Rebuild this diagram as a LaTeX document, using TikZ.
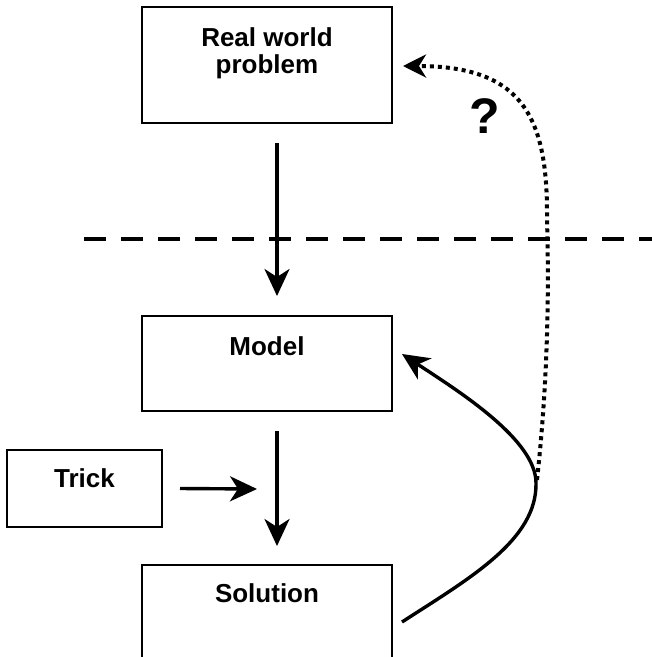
\documentclass[tikz,border=0pt]{standalone}
\usepackage{fontspec}
\setmainfont{Liberation Sans}
\usetikzlibrary{arrows.meta}
\begin{document}
\begin{tikzpicture}[x=1pt,y=-1pt,
  box/.style={draw, line width=1.8pt, inner sep=0pt, outer sep=0pt},
  lbl/.style={font=\fontsize{26}{27}\selectfont\bfseries, align=center, inner sep=0pt},
  flow/.style={line width=3.4pt, -{Stealth[length=27pt,width=25pt,inset=8pt]}},
  guess/.style={line width=4pt, dash pattern=on 4pt off 4pt,
    -{Stealth[length=23pt,width=23pt,inset=7pt]}},
  divider/.style={line width=4.5pt, dash pattern=on 22pt off 15pt}]
\useasboundingbox (0,0) rectangle (652,657);

% boxes
\node[box, minimum width=250pt, minimum height=116pt] (real) at (267,65) {};
\node[box, minimum width=250pt, minimum height=95pt] (model) at (267,363.5) {};
\node[box, minimum width=155pt, minimum height=77pt] (trick) at (84.5,488.5) {};
\node[box, minimum width=250pt, minimum height=95pt] (sol) at (267,612.5) {};

% box captions (base anchor sits on the last line)
\node[lbl, anchor=base] (realtxt) at (267,73) {Real world\\problem};
\node[lbl, anchor=base] (modeltxt) at (267,355) {Model};
\node[lbl, anchor=base] (tricktxt) at (84.5,487) {Trick};
\node[lbl, anchor=base] (soltxt) at (267,602) {Solution};
\node[font=\fontsize{50}{50}\selectfont\bfseries, inner sep=0pt] (qmark) at (485,116) {?};

% separator between the real world and the model
\coordinate (sepL) at (84,239);
\coordinate (sepR) at (652,239);
\draw[divider] (sepL) -- (sepR);

% downward flow
\draw[flow] ([shift={(10,20)}]real.south) -- ([shift={(10,-20)}]model.north);
\draw[flow] ([shift={(10,20)}]model.south) -- ([shift={(10,-19)}]sol.north);
\coordinate (join) at (257,489);
\draw[flow] ([shift={(18,0)}]trick.east) -- (join);

% open question: does the solution answer the real problem?
\coordinate (qstart) at (537,480);
\draw[guess] (qstart) .. controls (548,380) and (549,290) .. (547,220)
  .. controls (548,120) and (525,66) .. ([shift={(11,59)}]real.north east);

% feedback from solution to model
\draw[flow] ([shift={(10,57)}]sol.north east) .. controls (470,578) and (537,540) .. (536,483)
  .. controls (536,440) and (460,392) .. ([shift={(10,38)}]model.north east);
\end{tikzpicture}
\end{document}
